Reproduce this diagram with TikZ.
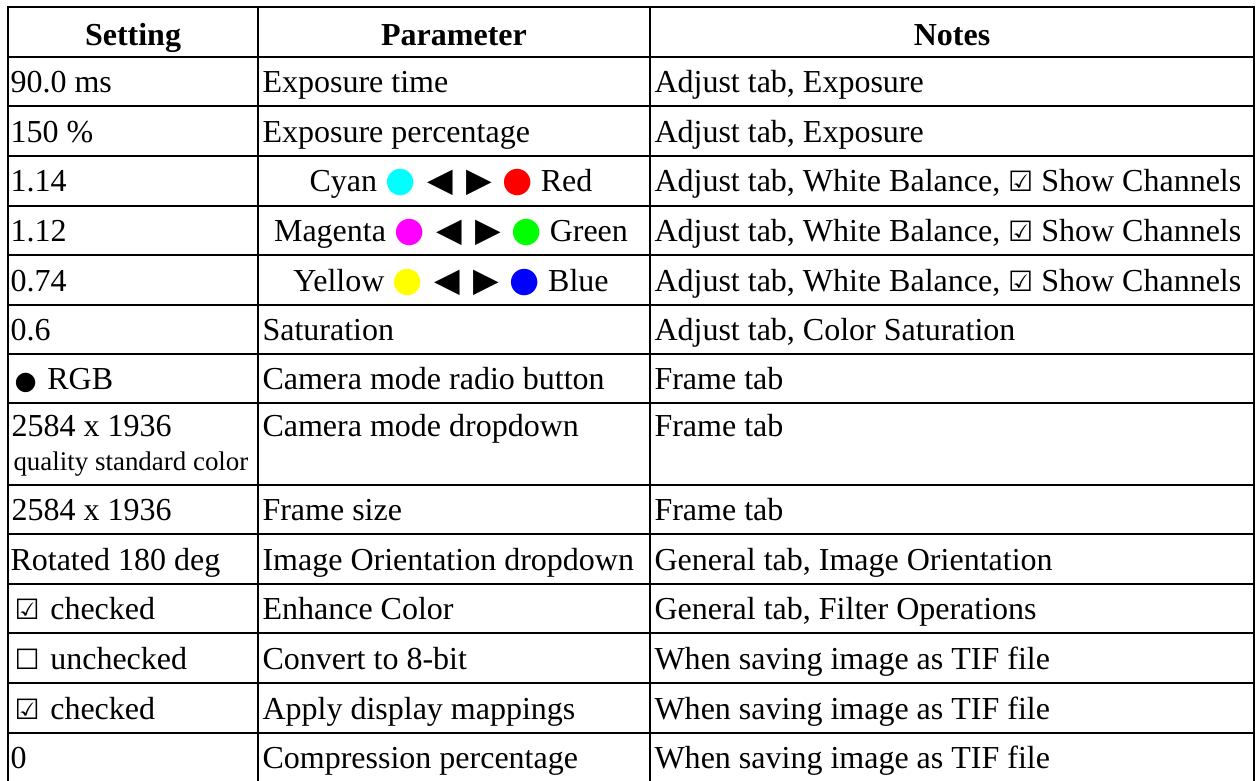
\documentclass[tikz,border=0pt]{standalone}
\usepackage{fontspec}
\setmainfont{Liberation Serif}
\newfontfamily\symf{DejaVu Sans}
\definecolor{dcyan}{RGB}{0,255,255}
\definecolor{dred}{RGB}{255,0,0}
\definecolor{dmagenta}{RGB}{255,0,255}
\definecolor{dgreen}{RGB}{0,255,0}
\definecolor{dyellow}{RGB}{255,255,0}
\definecolor{dblue}{RGB}{0,0,255}
\newcommand\mychk{{\symf\fontsize{10.5}{12}\selectfont ☑}}
\newcommand\myunchk{{\symf\fontsize{10.5}{12}\selectfont ☐}}
\newcommand\mydot[1]{{\symf\fontsize{13}{14}\selectfont\color{#1}●}}
\newcommand\mylt{{\symf\fontsize{12.5}{14}\selectfont ◀}}
\newcommand\myrt{{\symf\fontsize{12.5}{14}\selectfont ▶}}
\newcommand\mybdot{{\symf\fontsize{9.5}{12}\selectfont ●}}
\begin{document}
\begin{tikzpicture}[x=0.375pt,y=-0.375pt,
  grid/.style={line width=0.75pt, black},
  cell/.style={anchor=base west, inner sep=0pt, font=\fontsize{12}{14}\selectfont},
  ccell/.style={anchor=base, inner sep=0pt, font=\fontsize{12}{14}\selectfont},
  head/.style={anchor=base, inner sep=0pt, font=\fontsize{12}{14}\selectfont\bfseries},
  small/.style={anchor=base west, inner sep=0pt, font=\fontsize{10.1}{12}\selectfont}]
\useasboundingbox (0,0) rectangle (1256,780);
% grid
\draw[grid] (8,790) -- (8,7) -- (1254,7) -- (1254,790);
\draw[grid] (258.3,7) -- (258.3,790);
\draw[grid] (650,7) -- (650,790);
\foreach \yy in {56.5,106,155.7,205.5,255.2,304.7,353.5,403.2,485,534,583.5,632.5,682.5,733,782}
  \draw[grid] (8,\yy) -- (1254,\yy);
% header
\node[head] (h1) at (133,45) {Setting};
\node[head] (h2) at (454,45) {Parameter};
\node[head] (h3) at (952,45) {Notes};
% column 1
\node[cell] (a1) at (10,92.5) {90.0 ms};
\node[cell] (a2) at (10,142) {150 \%};
\node[cell] (a3) at (10,191.7) {1.14};
\node[cell] (a4) at (10,241.5) {1.12};
\node[cell] (a5) at (10,291) {0.74};
\node[cell] (a6) at (10,340) {0.6};
\node[cell] (a7) at (10,389.5) {\hspace{1.5pt}\mybdot\hspace{4pt}RGB};
\node[cell] (a8) at (11,436.7) {2584 x 1936};
\node[small] (a8b) at (13,470) {quality standard color};
\node[cell] (a9) at (11,520.5) {2584 x 1936};
\node[cell] (a10) at (10,570) {Rotated 180 deg};
\node[cell] (a11) at (10,619) {\hspace{1.5pt}\mychk\hspace{4pt}checked};
\node[cell] (a12) at (10,669) {\hspace{1.5pt}\myunchk\hspace{4pt}unchecked};
\node[cell] (a13) at (10,719) {\hspace{1.5pt}\mychk\hspace{4pt}checked};
\node[cell] (a14) at (10,768.5) {0};
% column 2
\node[cell] (b1) at (262,92.5) {Exposure time};
\node[cell] (b2) at (262,142) {Exposure percentage};
\node[ccell] (b3) at (451,191.7) {Cyan \mydot{dcyan}\hspace{1.5pt} \mylt\hspace{5pt}\myrt\hspace{1pt} \mydot{dred} Red};
\node[ccell] (b4) at (451,241.5) {Magenta \mydot{dmagenta}\hspace{1.5pt} \mylt\hspace{5pt}\myrt\hspace{1pt} \mydot{dgreen} Green};
\node[ccell] (b5) at (451,291) {Yellow \mydot{dyellow}\hspace{1.5pt} \mylt\hspace{5pt}\myrt\hspace{1pt} \mydot{dblue} Blue};
\node[cell] (b6) at (262,340) {Saturation};
\node[cell] (b7) at (262,389.5) {Camera mode radio button};
\node[cell] (b8) at (262,436.7) {Camera mode dropdown};
\node[cell] (b9) at (262,520.5) {Frame size};
\node[cell] (b10) at (262,570) {Image Orientation dropdown};
\node[cell] (b11) at (262,619) {Enhance Color};
\node[cell] (b12) at (262,669) {Convert to 8-bit};
\node[cell] (b13) at (262,719) {Apply display mappings};
\node[cell] (b14) at (262,768.5) {Compression percentage};
% column 3
\node[cell] (c1) at (654,92.5) {Adjust tab, Exposure};
\node[cell] (c2) at (654,142) {Adjust tab, Exposure};
\node[cell] (c3) at (654,191.7) {Adjust tab, White Balance, \mychk{} Show Channels};
\node[cell] (c4) at (654,241.5) {Adjust tab, White Balance, \mychk{} Show Channels};
\node[cell] (c5) at (654,291) {Adjust tab, White Balance, \mychk{} Show Channels};
\node[cell] (c6) at (654,340) {Adjust tab, Color Saturation};
\node[cell] (c7) at (654,389.5) {Frame tab};
\node[cell] (c8) at (654,436.7) {Frame tab};
\node[cell] (c9) at (654,520.5) {Frame tab};
\node[cell] (c10) at (654,570) {General tab, Image Orientation};
\node[cell] (c11) at (654,619) {General tab, Filter Operations};
\node[cell] (c12) at (654,669) {When saving image as TIF file};
\node[cell] (c13) at (654,719) {When saving image as TIF file};
\node[cell] (c14) at (654,768.5) {When saving image as TIF file};
\end{tikzpicture}
\end{document}
